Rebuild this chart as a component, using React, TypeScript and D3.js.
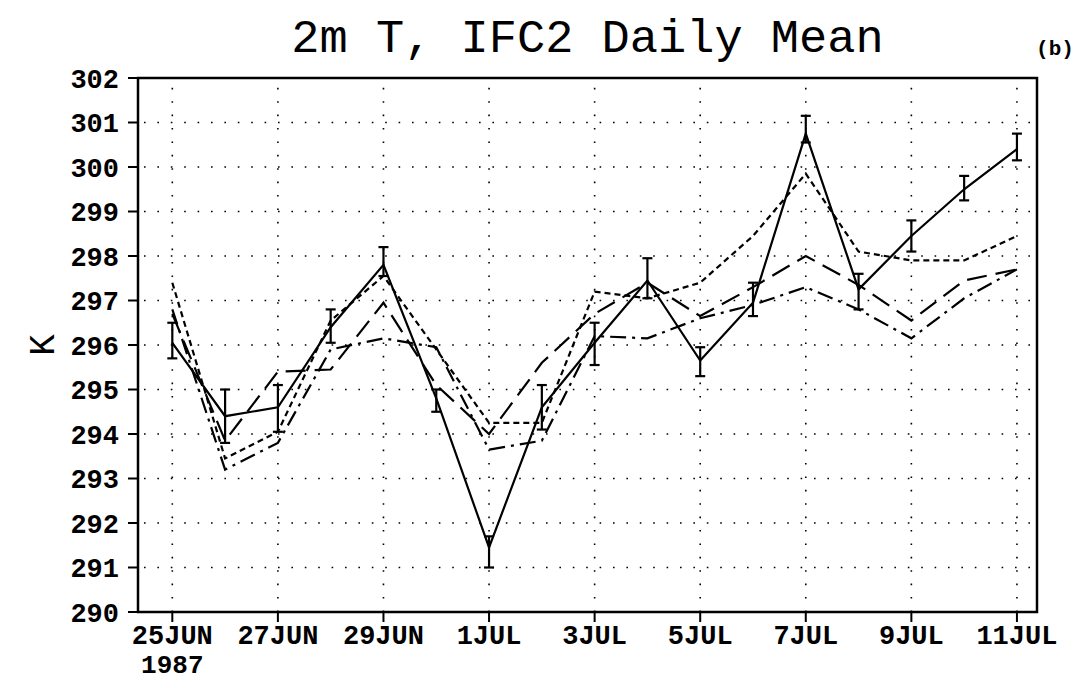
import React, { useEffect, useRef } from "react";
import * as d3 from "d3";

// days from 25JUN1987 (0) to 11JUL1987 (16)
const days = d3.range(17);
const dateTicks = [0, 2, 4, 6, 8, 10, 12, 14, 16];
const dateLabels = ["25JUN", "27JUN", "29JUN", "1JUL", "3JUL", "5JUL", "7JUL", "9JUL", "11JUL"];
const yTicks = d3.range(290, 303);

// observed daily mean (solid) with error bar limits
const obs = [296.05, 294.4, 294.6, 296.4, 297.8, 294.8, 291.45, 294.6, 296.05, 297.45, 295.65, 296.95, 300.75, 297.25, 298.45, 299.5, 300.4];
const obsLo = [295.7, 293.8, 294.05, 296.05, 297.55, 294.5, 291.0, 294.1, 295.55, 297.05, 295.3, 296.65, 300.55, 296.8, 298.1, 299.25, 300.15];
const obsHi = [296.5, 295.0, 295.1, 296.8, 298.2, 295.0, 291.7, 295.1, 296.5, 297.95, 295.95, 297.4, 301.15, 297.6, 298.8, 299.8, 300.75];

// model runs
const shortDash = [297.4, 293.45, 294.05, 296.55, 297.55, 295.9, 294.25, 294.25, 297.2, 297.05, 297.4, 298.45, 299.85, 298.1, 297.9, 297.9, 298.45];
const longDash = [296.7, 293.85, 295.4, 295.45, 296.95, 295.1, 294.0, 295.6, 296.7, 297.4, 296.65, 297.3, 298.0, 297.35, 296.55, 297.45, 297.7];
const dashDot = [296.8, 293.2, 293.8, 295.9, 296.15, 295.95, 293.65, 293.85, 296.2, 296.15, 296.6, 296.9, 297.3, 296.8, 296.15, 297.05, 297.7];

const FONT = "'Liberation Mono', 'DejaVu Sans Mono', monospace";

const App = () => {
  const svgRef = useRef(null);

  useEffect(() => {
    const svg = d3.select(svgRef.current);
    svg.selectAll("*").remove();

    const left = 138, right = 1037, top = 78, bottom = 612;
    const x = d3.scaleLinear().domain([-0.65, 16.38]).range([left, right]);
    const y = d3.scaleLinear().domain([290, 302]).range([bottom, top]);

    // dotted grid
    const grid = svg.append("g").attr("stroke", "#000").attr("stroke-width", 1.6).attr("stroke-dasharray", "1.6 11.8");
    yTicks.filter((t) => t > 290 && t < 302).forEach((t) => {
      grid.append("line").attr("x1", left + 6).attr("x2", right).attr("y1", y(t)).attr("y2", y(t));
    });
    dateTicks.forEach((d) => {
      grid.append("line").attr("x1", x(d)).attr("x2", x(d)).attr("y1", bottom).attr("y2", top + 4);
    });

    // frame
    svg.append("rect")
      .attr("x", left).attr("y", top)
      .attr("width", right - left).attr("height", bottom - top)
      .attr("fill", "none").attr("stroke", "#000").attr("stroke-width", 2.5);

    // y axis
    const yAxis = svg.append("g");
    yTicks.forEach((t) => {
      yAxis.append("line").attr("x1", left - 10).attr("x2", left).attr("y1", y(t)).attr("y2", y(t))
        .attr("stroke", "#000").attr("stroke-width", 2);
      yAxis.append("text").attr("x", 119).attr("y", y(t)).attr("dy", "0.36em")
        .attr("text-anchor", "end").attr("font-family", FONT).attr("font-size", 27).attr("font-weight", "bold")
        .text(t);
    });

    // x axis
    const xAxis = svg.append("g");
    dateTicks.forEach((d, i) => {
      xAxis.append("line").attr("x1", x(d)).attr("x2", x(d)).attr("y1", bottom).attr("y2", bottom + 10)
        .attr("stroke", "#000").attr("stroke-width", 2);
      xAxis.append("text").attr("x", x(d)).attr("y", 644)
        .attr("text-anchor", "middle").attr("font-family", FONT).attr("font-size", 27).attr("font-weight", "bold")
        .text(dateLabels[i]);
    });
    xAxis.append("text").attr("x", x(0)).attr("y", 673)
      .attr("text-anchor", "middle").attr("font-family", FONT).attr("font-size", 26).attr("font-weight", "bold")
      .text("1987");

    // lines
    const line = d3.line().x((d, i) => x(days[i])).y((d) => y(d));
    const series = [
      { data: shortDash, dash: "6 4" },
      { data: longDash, dash: "20 9" },
      { data: dashDot, dash: "16 6 3 6" },
      { data: obs, dash: null },
    ];
    series.forEach((s) => {
      svg.append("path").datum(s.data)
        .attr("fill", "none").attr("stroke", "#000").attr("stroke-width", 2.2)
        .attr("stroke-dasharray", s.dash).attr("d", line);
    });

    // error bars
    const eb = svg.append("g").attr("stroke", "#000").attr("stroke-width", 2.2);
    days.forEach((d, i) => {
      const cx = x(d);
      eb.append("line").attr("x1", cx).attr("x2", cx).attr("y1", y(obsLo[i])).attr("y2", y(obsHi[i]));
      eb.append("line").attr("x1", cx - 5).attr("x2", cx + 5).attr("y1", y(obsLo[i])).attr("y2", y(obsLo[i]));
      eb.append("line").attr("x1", cx - 5).attr("x2", cx + 5).attr("y1", y(obsHi[i])).attr("y2", y(obsHi[i]));
    });

    // titles
    svg.append("text").attr("x", (left + right) / 2).attr("y", 52)
      .attr("text-anchor", "middle").attr("font-family", FONT).attr("font-size", 47)
      .text("2m T, IFC2 Daily Mean");
    svg.append("text").attr("x", 1055).attr("y", 55)
      .attr("text-anchor", "middle").attr("font-family", FONT).attr("font-size", 21).attr("font-weight", "bold")
      .text("(b)");
    svg.append("text").attr("transform", `translate(54,${(top + bottom) / 2}) rotate(-90)`)
      .attr("text-anchor", "middle").attr("font-family", FONT).attr("font-size", 36)
      .text("K");
  }, []);

  return (
    <svg ref={svgRef} width="1080" height="688"
      style={{ position: "absolute", left: 0, top: 0, background: "#fff" }}></svg>
  );
};

export default App;
